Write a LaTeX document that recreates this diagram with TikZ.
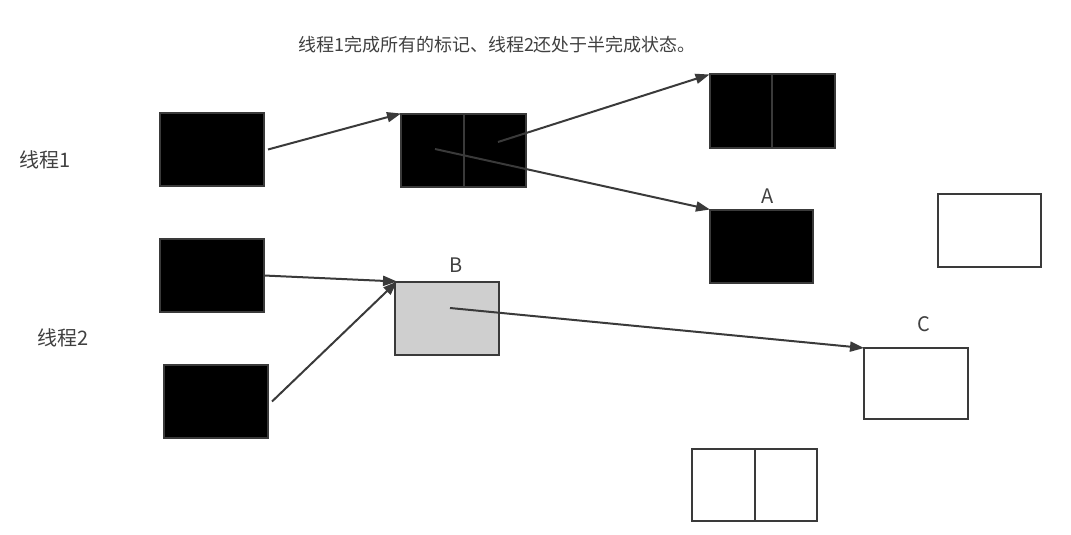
\documentclass[tikz,border=0pt]{standalone}
\usepackage{fontspec}
\usepackage{tikz}
\usetikzlibrary{arrows.meta,positioning}
\newfontfamily\cjk{Noto Sans CJK SC}
\definecolor{lineC}{HTML}{3A3A3A}
\definecolor{textC}{HTML}{404040}
\definecolor{fillG}{HTML}{CFCFCF}
\tikzset{
    blockB/.style={draw=lineC, fill=black, line width=2pt, minimum width=104pt, minimum height=73pt, inner sep=0pt, outer sep=0pt},
    blockW/.style={blockB, fill=white},
    blockG/.style={blockB, fill=fillG},
    wide/.style={minimum width=125pt},
    ptr/.style={draw=lineC, line width=2pt, -{Triangle[length=14pt,width=10pt]}},
    lbl/.style={font=\cjk\fontsize{20}{24}\selectfont, text=textC, inner sep=0pt},
    ttl/.style={lbl, font=\cjk\fontsize{18}{22}\selectfont},
    node distance=1.5
}

\begin{document}
\begin{tikzpicture}[x=1pt,y=-1pt]
	\useasboundingbox (0,0) rectangle (1071,535);
	% titles
	\node[ttl] (title) at (497,45) {线程1完成所有的标记、线程2还处于半完成状态。};
	\node[lbl] (th1) at (45,160) {线程1};
	\node[lbl] (th2) at (63,338) {线程2};

	% thread 1
	\node[blockB] (t1a) at (212,149.5) {};
	\node[blockB, wide] (mid) at (463.5,150) {};
	\node[blockB, wide] (far) at (772,111) {};
	\node[blockB, minimum width=103pt] (nA) at (761.5,246) {};
	\node[lbl] (labA) at (768,196) {A};
	\node[blockW, minimum width=103pt] (nE) at (989.5,230) {};
	\draw[lineC, line width=2pt] (mid.north) -- (mid.south) (far.north) -- (far.south);

	% thread 2
	\node[blockB] (t2a) at (212,275.5) {};
	\node[blockB] (t2b) at (216,401.5) {};
	\node[blockG] (nB) at (447,318) {};
	\node[lbl] (labB) at (456,265) {B};
	\node[blockW, minimum height=71pt] (nC) at (916,383.5) {};
	\node[lbl] (labC) at (924,324) {C};
	\node[blockW, wide, minimum height=72pt] (nD) at (754.5,485) {};
	\draw[lineC, line width=2pt] (nD.north) -- (nD.south);

	\coordinate (midR) at (498,142);
	\coordinate (midL) at (435,149);
	\coordinate (bC) at (450,308);

	\draw[ptr] ([xshift=4pt]t1a.east) -- (mid.north west);
	\draw[ptr] (midR) -- (far.north west);
	\draw[ptr] (midL) -- (nA.north west);
	\draw[ptr] (t2a.east) -- ([xshift=2pt]nB.north west);
	\draw[ptr] ([xshift=4pt]t2b.east) -- ([xshift=2pt]nB.north west);
	\draw[ptr] (bC) -- (nC.north west);
\end{tikzpicture}
\end{document}
